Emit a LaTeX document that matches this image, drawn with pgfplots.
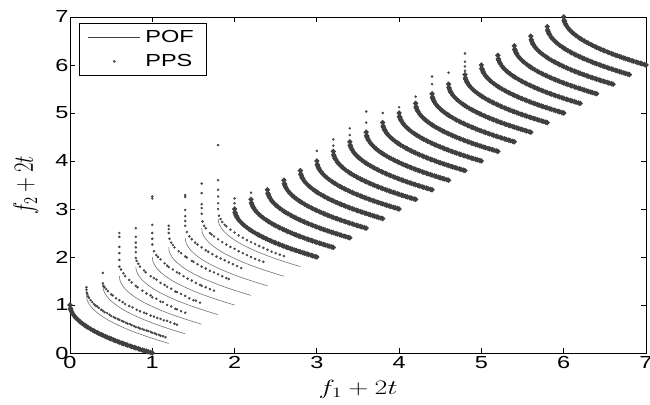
\documentclass[border=0pt]{standalone}
\usepackage{pgfplots}
\pgfplotsset{compat=1.18}
\usepackage{pgfplotstable}
\usepackage{graphicx}
\usepackage{fontspec}
\newfontfamily\sansstretch[FakeStretch=1.35]{Liberation Sans}

% true Pareto front of one time step (f1, f2); shifted by 2t = 0.2k
\pgfplotstableread{
f1 f2
0 1
0.005 0.929
0.01 0.9
0.02 0.859
0.04 0.8
0.07 0.735
0.1 0.684
0.15 0.613
0.2 0.553
0.25 0.5
0.3 0.452
0.4 0.368
0.5 0.293
0.6 0.225
0.7 0.163
0.8 0.106
0.9 0.051
1 0
}\pof

% converged PPS points of one time step
\pgfplotstableread{
f1 f2
0 1
0.005 0.929
0.01 0.9
0.02 0.859
0.03 0.827
0.05 0.776
0.07 0.735
0.1 0.684
0.12 0.654
0.15 0.613
0.18 0.576
0.2 0.553
0.22 0.531
0.25 0.5
0.28 0.471
0.3 0.452
0.33 0.426
0.35 0.408
0.38 0.384
0.4 0.368
0.43 0.344
0.45 0.329
0.48 0.307
0.5 0.293
0.53 0.272
0.55 0.258
0.58 0.238
0.6 0.225
0.63 0.206
0.65 0.194
0.68 0.175
0.7 0.163
0.73 0.146
0.75 0.134
0.78 0.117
0.8 0.106
0.83 0.089
0.85 0.078
0.88 0.062
0.9 0.051
0.93 0.036
0.95 0.025
0.98 0.010
1 0
}\pps

% PPS points that have not converged (k = time step, 2t = 0.2k)
\pgfplotstableread{
k f1 f2
1 0 1.17
1 0 1.12
1 0.005 1.06
1 0.01 1.03
1 0.02 0.98
1 0.03 0.95
1 0.05 0.90
1 0.07 0.86
1 0.09 0.82
1 0.11 0.79
1 0.13 0.77
1 0.15 0.74
1 0.18 0.70
1 0.2 0.68
1 0.22 0.65
1 0.25 0.63
1 0.28 0.60
1 0.3 0.57
1 0.33 0.55
1 0.35 0.53
1 0.38 0.51
1 0.4 0.49
1 0.43 0.47
1 0.45 0.45
1 0.48 0.43
1 0.5 0.41
1 0.53 0.40
1 0.55 0.38
1 0.58 0.36
1 0.6 0.34
1 0.63 0.33
1 0.65 0.31
1 0.68 0.30
1 0.7 0.28
1 0.73 0.27
1 0.75 0.26
1 0.78 0.24
1 0.8 0.22
1 0.83 0.21
1 0.85 0.19
1 0.88 0.18
1 0.9 0.16
1 0.93 0.15
1 0.96 0.13
2 0 1.27
2 0 1.05
2 0.005 1.0
2 0.02 0.97
2 0.04 0.93
2 0.06 0.89
2 0.1 0.82
2 0.12 0.80
2 0.16 0.74
2 0.2 0.70
2 0.24 0.66
2 0.27 0.62
2 0.32 0.58
2 0.36 0.55
2 0.41 0.50
2 0.45 0.47
2 0.5 0.44
2 0.53 0.42
2 0.58 0.38
2 0.62 0.36
2 0.66 0.33
2 0.7 0.31
2 0.74 0.28
2 0.78 0.27
2 0.82 0.24
2 0.87 0.21
2 0.9 0.19
3 0 1.90
3 0 1.82
3 0 1.61
3 0 1.48
3 0 1.34
3 0 1.20
3 0.02 1.14
3 0.05 1.06
3 0.07 1.0
3 0.12 0.92
3 0.15 0.87
3 0.2 0.80
3 0.22 0.77
3 0.28 0.70
3 0.33 0.64
3 0.38 0.60
3 0.4 0.56
3 0.45 0.53
3 0.5 0.47
3 0.53 0.46
3 0.58 0.40
3 0.63 0.37
3 0.68 0.32
3 0.7 0.31
3 0.75 0.27
3 0.8 0.24
4 0 1.80
4 0 1.62
4 0 1.50
4 0 1.40
4 0 1.30
4 0 1.18
4 0.01 1.12
4 0.03 1.06
4 0.05 1.0
4 0.1 0.92
4 0.12 0.88
4 0.18 0.80
4 0.22 0.76
4 0.25 0.73
4 0.3 0.66
4 0.35 0.62
4 0.38 0.58
4 0.43 0.54
4 0.48 0.48
4 0.5 0.47
4 0.55 0.43
4 0.6 0.39
4 0.65 0.34
4 0.7 0.30
4 0.73 0.29
4 0.78 0.25
5 0 2.26
5 0 2.22
5 0 1.67
5 0 1.50
5 0 1.38
5 0 1.26
5 0.02 1.12
5 0.05 1.04
5 0.07 1.0
5 0.1 0.95
5 0.15 0.87
5 0.18 0.82
5 0.2 0.79
5 0.25 0.74
5 0.3 0.68
5 0.33 0.66
5 0.38 0.60
5 0.43 0.55
5 0.48 0.51
5 0.53 0.46
5 0.58 0.42
5 0.6 0.40
5 0.65 0.37
5 0.7 0.33
5 0.75 0.30
6 0 1.45
6 0 1.38
6 0 1.30
6 0.01 1.18
6 0.03 1.10
6 0.05 1.05
6 0.07 1.00
6 0.12 0.92
6 0.15 0.88
6 0.2 0.81
6 0.22 0.79
6 0.28 0.72
6 0.3 0.70
6 0.35 0.65
6 0.4 0.60
6 0.45 0.56
6 0.5 0.51
6 0.55 0.48
6 0.6 0.44
6 0.65 0.40
6 0.7 0.36
6 0.73 0.34
7 0 1.89
7 0 1.85
7 0 1.58
7 0 1.45
7 0 1.35
7 0 1.25
7 0.02 1.12
7 0.05 1.03
7 0.08 0.97
7 0.12 0.90
7 0.15 0.86
7 0.2 0.80
7 0.25 0.74
7 0.28 0.71
7 0.33 0.66
7 0.38 0.61
7 0.43 0.57
7 0.48 0.53
7 0.53 0.49
7 0.58 0.45
7 0.63 0.41
7 0.68 0.37
8 0 1.93
8 0 1.73
8 0 1.50
8 0 1.42
8 0 1.30
8 0.01 1.14
8 0.03 1.05
8 0.05 1.0
8 0.1 0.90
8 0.12 0.87
8 0.15 0.83
8 0.2 0.77
8 0.25 0.71
8 0.3 0.66
8 0.35 0.61
8 0.4 0.57
8 0.45 0.52
8 0.5 0.48
8 0.55 0.44
8 0.6 0.40
8 0.65 0.36
8 0.7 0.33
8 0.75 0.30
9 0 2.53
9 0 1.80
9 0 1.60
9 0 1.46
9 0 1.32
9 0 1.20
9 0.01 1.06
9 0.03 0.99
9 0.05 0.93
9 0.08 0.87
9 0.1 0.84
9 0.15 0.77
9 0.2 0.71
9 0.25 0.65
9 0.3 0.60
9 0.35 0.55
9 0.4 0.51
9 0.45 0.47
9 0.5 0.43
9 0.55 0.39
9 0.6 0.35
9 0.65 0.31
9 0.7 0.28
9 0.75 0.25
9 0.8 0.22
10 0 1.22
10 0 1.12
11 0 1.14
15 0 1.21
16 0 1.25
16 0 1.12
17 0 1.28
17 0 1.14
18 0 1.43
18 0 1.20
19 0 1.20
20 0 1.12
21 0 1.14
22 0 1.36
22 0 1.20
23 0 1.24
24 0 1.44
24 0 1.27
24 0 1.17
24 0 1.08
}\scat

\begin{document}
\begin{tikzpicture}
\begin{axis}[
  scale only axis, width=576bp, height=336bp,
  xmin=0, xmax=7, ymin=0, ymax=7,
  xtick={0,...,7}, ytick={0,...,7},
  /pgf/number format/assume math mode=true,
  tick label style={font=\fontsize{17.5}{20}\selectfont\sansstretch, black},
  yticklabel style={xshift=2bp},
  major tick length=5bp,
  tick style={black, line width=0.8bp},
  axis line style={black, line width=0.9bp},
  xlabel={\scalebox{1.35}[1]{$f_1+2t$}},
  ylabel={\scalebox{1}[1.35]{$f_2+2t$}},
  every axis x label/.style={at={([yshift=-27bp]axis description cs:0.5,0)}, anchor=north, inner sep=0pt, font=\fontsize{20.74}{24}\selectfont},
  every axis y label/.style={at={([xshift=-44bp]axis description cs:0,0.5)}, anchor=center, rotate=90, inner sep=0pt, font=\fontsize{20.74}{24}\selectfont},
  legend cell align=left,
  legend style={at={(axis description cs:0.0156,0.982)}, anchor=north west,
    draw=black, line width=0.7bp, fill=white,
    font=\fontsize{17.5}{20}\selectfont\sansstretch,
    inner xsep=0pt, inner ysep=2bp, row sep=0pt, column sep=0pt,
    nodes={inner sep=0pt}},
]
\addlegendimage{legend image code/.code={\path[draw=none, fill=none] (0bp,-12bp) rectangle (66bp,12bp); \draw[black!75, line width=0.9bp] (9bp,0bp) -- (61bp,0bp);}}
\addlegendimage{legend image code/.code={\path[draw=none, fill=none] (0bp,-12bp) rectangle (66bp,12bp); \fill[black!70] (35bp,0bp) circle (1bp);}}
\legend{POF\hspace{13bp}\mbox{},PPS\hspace{13bp}\mbox{}}

\pgfplotsinvokeforeach{0,...,30}{
  \addplot[forget plot, black!55, line width=0.6bp, mark=none]
    table[x expr=\thisrow{f1}+0.2*#1, y expr=\thisrow{f2}+0.2*#1]{\pof};
}
% converged time steps: dense PPS points on the front
\addplot[forget plot, black!75, line width=2.2bp, mark=*, mark size=1.25bp, mark options={draw=none, fill=black!75}]
  table[x=f1, y=f2]{\pps};
\pgfplotsinvokeforeach{10,...,30}{
  \addplot[forget plot, black!75, line width=2.2bp, mark=*, mark size=1.25bp, mark options={draw=none, fill=black!75}]
    table[x expr=\thisrow{f1}+0.2*#1, y expr=\thisrow{f2}+0.2*#1]{\pps};
}
\addplot[forget plot, only marks, mark=*, mark size=1.05bp, black!72, mark options={draw=none}]
  table[x expr=\thisrow{f1}+0.2*\thisrow{k}, y expr=\thisrow{f2}+0.2*\thisrow{k}]{\scat};
\end{axis}
\pgfresetboundingbox
\path[use as bounding box] (current axis.south west) ++(-70bp,-52bp) rectangle ++(650bp,405bp);
\end{tikzpicture}
\end{document}
